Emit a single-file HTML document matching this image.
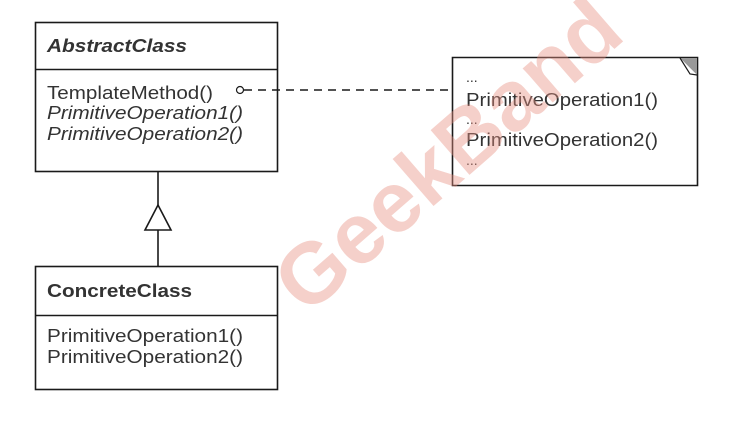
<!DOCTYPE html>
<html><head><meta charset="utf-8"><style>
html,body{margin:0;padding:0;background:#fff;}
svg{display:block;}
text{font-family:"Liberation Sans",Arial,sans-serif;}
</style></head><body>
<svg width="750" height="430" viewBox="0 0 750 430" xmlns="http://www.w3.org/2000/svg">
<rect width="750" height="430" fill="#fff"/>
<g stroke="#1a1a1a" stroke-width="1.6" fill="none">
<rect x="35.5" y="22.5" width="242" height="149"/>
<line x1="35" y1="69.5" x2="277" y2="69.5"/>
<rect x="35.5" y="266.5" width="242" height="123"/>
<line x1="35" y1="315.5" x2="277" y2="315.5"/>
<line x1="158" y1="172" x2="158" y2="205"/>
<polygon points="158,205 145,230 171,230" fill="#fff"/>
<line x1="158" y1="230" x2="158" y2="266"/>
<circle cx="240" cy="90" r="3.5" fill="#fff" stroke-width="1.2"/>
<line x1="244" y1="90" x2="452" y2="90" stroke-dasharray="8,6"/>
<polygon points="452.5,57.5 697.5,57.5 697.5,185.5 452.5,185.5" fill="#fff"/>
</g>
<polygon points="680,58 697,58 697,75" fill="#999"/>
<polyline points="680,58 690,74 697,75" fill="#fff" stroke="#1a1a1a" stroke-width="1.2"/>
<g font-size="18" fill="#333">
<text x="47" y="52" font-weight="bold" font-style="italic" textLength="140" lengthAdjust="spacingAndGlyphs">AbstractClass</text>
<text x="47" y="99" textLength="166" lengthAdjust="spacingAndGlyphs">TemplateMethod()</text>
<text x="47" y="119" font-style="italic" textLength="196" lengthAdjust="spacingAndGlyphs">PrimitiveOperation1()</text>
<text x="47" y="140" font-style="italic" textLength="196" lengthAdjust="spacingAndGlyphs">PrimitiveOperation2()</text>
<text x="47" y="297" font-weight="bold" textLength="145" lengthAdjust="spacingAndGlyphs">ConcreteClass</text>
<text x="47" y="342" textLength="196" lengthAdjust="spacingAndGlyphs">PrimitiveOperation1()</text>
<text x="47" y="363" textLength="196" lengthAdjust="spacingAndGlyphs">PrimitiveOperation2()</text>
<text x="466" y="82" font-size="14">...</text>
<text x="466" y="106" textLength="192" lengthAdjust="spacingAndGlyphs">PrimitiveOperation1()</text>
<text x="466" y="124" font-size="14">...</text>
<text x="466" y="146" textLength="192" lengthAdjust="spacingAndGlyphs">PrimitiveOperation2()</text>
<text x="466" y="165" font-size="14">...</text>
</g>
<text x="452" y="160" font-size="86" font-weight="bold" fill="#e89080" fill-opacity="0.42" text-anchor="middle" dominant-baseline="middle" transform="rotate(-41 452 160)">GeekBand</text>
</svg>
</body></html>
